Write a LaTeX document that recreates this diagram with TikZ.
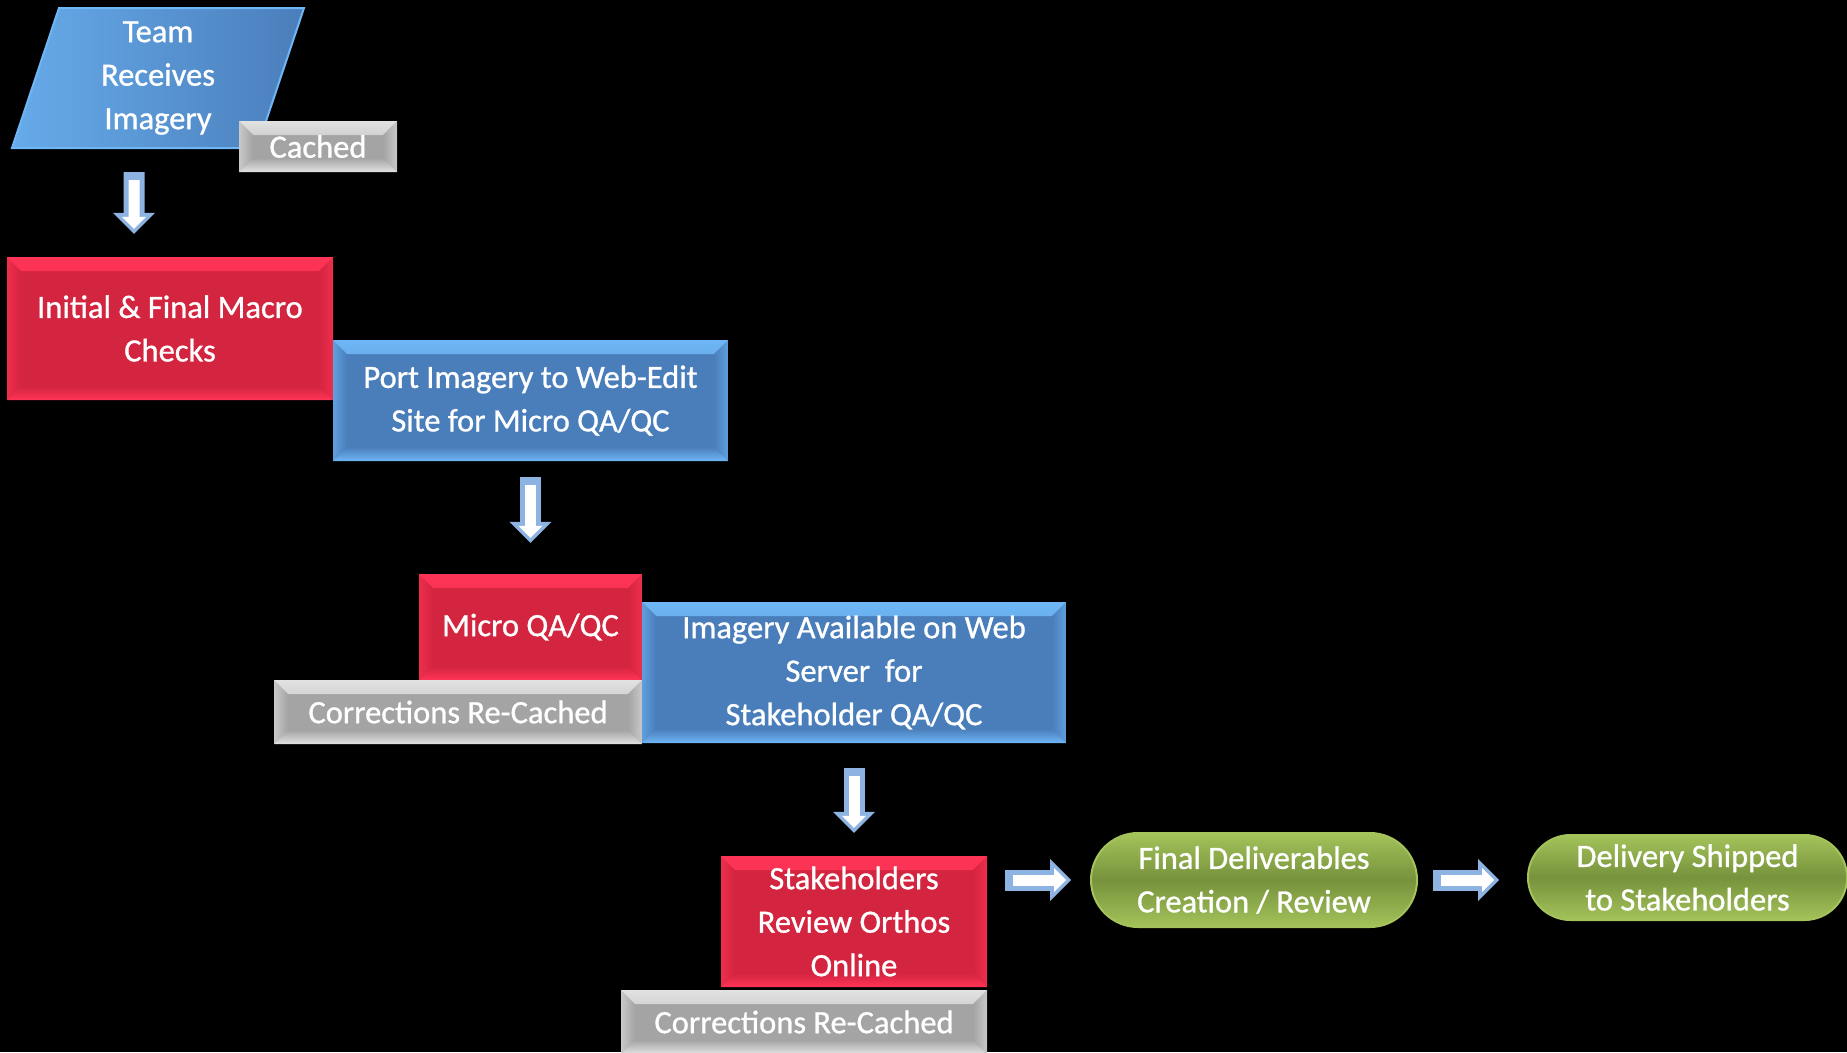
\documentclass[tikz,border=0pt]{standalone}
\usepackage{fontspec}
\setmainfont{Carlito}
\newfontfamily\boxfont{Carlito}[FakeBold=0.9]
\usetikzlibrary{shapes.geometric,shapes.misc,arrows.meta,calc,positioning}
\definecolor{redbase}{HTML}{D42540}
\definecolor{redlight}{HTML}{FF3456}
\definecolor{bluebase}{HTML}{4A7EBB}
\definecolor{bluelight}{HTML}{6EB6F5}
\definecolor{graybase}{HTML}{A4A4A4}
\definecolor{graylight}{HTML}{E2E2E2}
\definecolor{greenbase}{HTML}{76923C}
\definecolor{greenlight}{HTML}{A4C35A}
\definecolor{arrowblue}{HTML}{8DB3E2}

\begin{document}
\begin{tikzpicture}[x=1pt,y=-1pt,
  every node/.style={text=white,align=center,inner sep=0pt,font=\boxfont\fontsize{32.5}{43.5}\selectfont},
  bevel/.style 2 args={rectangle,fill=#2,path picture={
    \shade[top color=#1,bottom color=#2] (path picture bounding box.north west) -- (path picture bounding box.north east)
      -- ([shift={(-14pt,-14pt)}]path picture bounding box.north east) -- ([shift={(14pt,-14pt)}]path picture bounding box.north west) -- cycle;
    \shade[top color=#2,bottom color=#1] (path picture bounding box.south west) -- (path picture bounding box.south east)
      -- ([shift={(-14pt,14pt)}]path picture bounding box.south east) -- ([shift={(14pt,14pt)}]path picture bounding box.south west) -- cycle;
    \shade[left color=#1,right color=#2,opacity=.6] (path picture bounding box.north west) -- ([shift={(14pt,-14pt)}]path picture bounding box.north west)
      -- ([shift={(14pt,14pt)}]path picture bounding box.south west) -- (path picture bounding box.south west) -- cycle;
    \shade[left color=#2,right color=#1,opacity=.6] (path picture bounding box.north east) -- ([shift={(-14pt,-14pt)}]path picture bounding box.north east)
      -- ([shift={(-14pt,14pt)}]path picture bounding box.south east) -- (path picture bounding box.south east) -- cycle;
  }},
  redbox/.style={bevel={redlight}{redbase}},
  bluebox/.style={bevel={bluelight}{bluebase}},
  graybox/.style={bevel={graylight}{graybase}},
  greenbox/.style={rounded rectangle,draw=greenlight,line width=2pt,top color=greenlight,bottom color=greenlight,middle color=greenbase},
  blockarrow/.style={line width=11pt,draw=white,-{Triangle[length=12pt,width=24pt,line width=0pt]},shorten >=5pt,shorten <=8pt,
    preaction={draw=arrowblue,line width=21pt,-{Triangle[length=21pt,width=42pt,line width=0pt]},shorten >=0pt,shorten <=0pt}}]

  \fill[black] (0,0) rectangle (1847,1052);
  \useasboundingbox (0,0) rectangle (1847,1052);

  \node[trapezium,trapezium left angle=67.5,trapezium right angle=112.5,trapezium stretches body,
        minimum width=292pt,minimum height=140pt,draw=bluelight,line width=2pt,left color=bluelight!80!bluebase,right color=bluebase] (team) at (158,78) {Team\\Receives\\Imagery};
  \node[graybox,minimum width=158pt,minimum height=51pt] (cached) at (318,146.5) {Cached};
  \node[redbox,minimum width=326pt,minimum height=143pt] (macro) at (170,328.5) {Initial \& Final Macro\\Checks};
  \node[bluebox,minimum width=395pt,minimum height=121pt] (port) at (530.5,400.5) {Port Imagery to Web-Edit\\Site for Micro QA/QC};
  \node[redbox,minimum width=223pt,minimum height=106pt] (micro) at (530.5,627) {Micro QA/QC};
  \node[graybox,minimum width=368pt,minimum height=64pt] (recache1) at (458,712) {Corrections Re-Cached};
  \node[bluebox,minimum width=424pt,minimum height=141pt] (server) at (854,672.5) {Imagery Available on Web\\Server~ for\\Stakeholder QA/QC};
  \node[redbox,minimum width=266pt,minimum height=131pt] (review) at (854,921.5) {Stakeholders\\Review Orthos\\Online};
  \node[graybox,minimum width=366pt,minimum height=64pt] (recache2) at (804,1022) {Corrections Re-Cached};
  \node[greenbox,minimum width=326pt,minimum height=94pt] (final) at (1254,880) {Final Deliverables\\Creation / Review};
  \node[greenbox,minimum width=319pt,minimum height=85pt] (shipped) at (1687.5,877.5) {Delivery Shipped\\to Stakeholders};

  \draw[blockarrow] ([xshift=-24pt,yshift=-23pt]team.south) -- ([xshift=-36pt,yshift=23pt]macro.north);
  \draw[blockarrow] ([yshift=-16pt]port.south) -- ([yshift=31pt]micro.north);
  \draw[blockarrow] ([yshift=-25pt]server.south) -- ([yshift=23pt]review.north);
  \draw[blockarrow] ($(review.east |- final.west)+(18,0)$) -- ($(final.west)+(-19,0)$);
  \draw[blockarrow] ($(final.east)+(15,0)$) -- ($(shipped.west |- final.east)+(-28,0)$);
\end{tikzpicture}
\end{document}
